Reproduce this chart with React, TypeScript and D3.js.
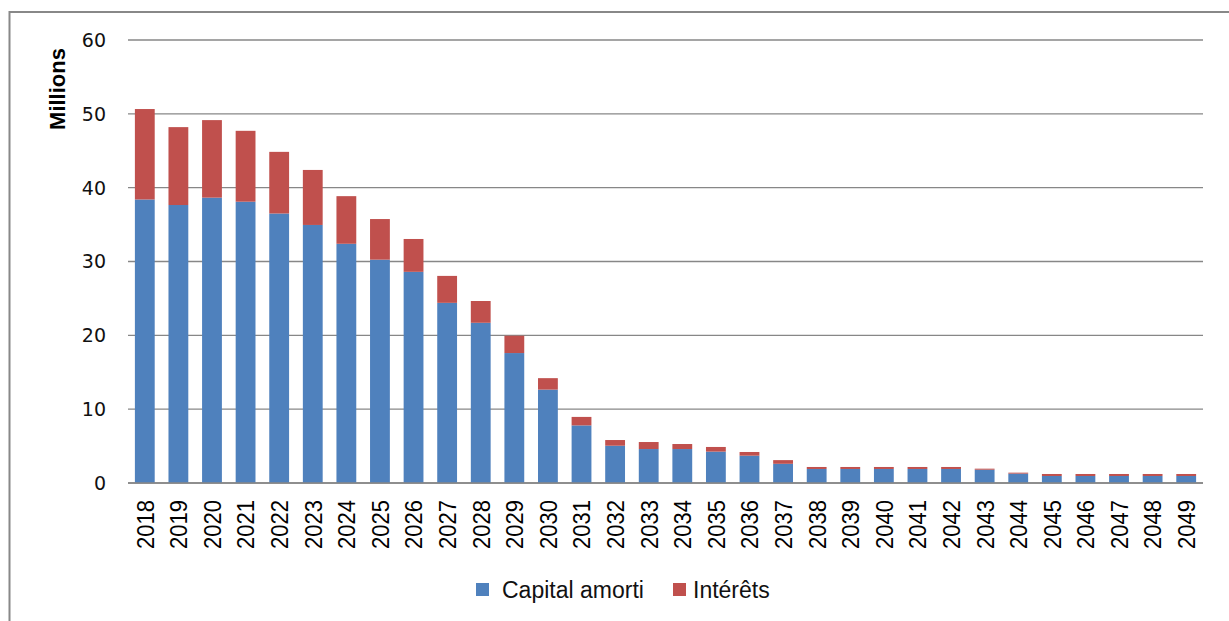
import * as d3 from "d3";

const years = [
  "2018", "2019", "2020", "2021", "2022", "2023", "2024", "2025", "2026", "2027", "2028",
  "2029", "2030", "2031", "2032", "2033", "2034", "2035", "2036", "2037", "2038", "2039",
  "2040", "2041", "2042", "2043", "2044", "2045", "2046", "2047", "2048", "2049",
];

// capital amorti (millions)
const capital = [
  38.4, 37.65, 38.65, 38.1, 36.5, 34.95, 32.4, 30.25, 28.6, 24.4, 21.7,
  17.6, 12.65, 7.8, 5.05, 4.6, 4.6, 4.25, 3.7, 2.6, 1.9, 1.9,
  1.9, 1.9, 1.9, 1.8, 1.27, 0.95, 0.95, 0.95, 0.95, 0.95,
];

// intérêts (millions)
const interets = [
  12.25, 10.55, 10.5, 9.6, 8.35, 7.45, 6.45, 5.5, 4.45, 3.65, 2.95,
  2.35, 1.55, 1.15, 0.77, 0.95, 0.68, 0.63, 0.5, 0.5, 0.27, 0.27,
  0.27, 0.27, 0.27, 0.14, 0.13, 0.27, 0.27, 0.27, 0.27, 0.27,
];

const yTicks = [0, 10, 20, 30, 40, 50, 60];

const seriesNames = ["Capital amorti", "Intérêts"];
const colors = ["#4F81BD", "#C0504D"];

const W = 1229;
const H = 621;
const plot = { left: 128, right: 1203, top: 40, bottom: 483 };

export default function App() {
  const rows = years.map((y, i) => ({ year: y, c: capital[i], r: interets[i] }));
  const stack = d3.stack<any>().keys(["c", "r"]);
  const layers = stack(rows);

  const x = d3.scaleBand().domain(years).range([plot.left, plot.right]).paddingInner(0.41).paddingOuter(0.205);
  const y = d3.scaleLinear().domain([0, 60]).range([plot.bottom, plot.top]);

  const font = "'Liberation Sans', Arial, sans-serif";

  return (
    <svg width={W} height={H} style={{ position: "absolute", left: 0, top: 0, background: "#fff" }}>
      <rect x={9.5} y={12} width={W + 20} height={H + 20} fill="#fff" stroke="#888" strokeWidth={2} />

      {yTicks.map((t) => (
        <g key={t}>
          <line x1={plot.left} x2={plot.right} y1={y(t)} y2={y(t)} stroke="#878787" strokeWidth={1.4} />
          <text x={106} y={y(t)} dy="0.36em" textAnchor="end" fontFamily="'DejaVu Sans', sans-serif" fontSize={19} fill="#111">
            {t}
          </text>
        </g>
      ))}

      <text
        transform={`translate(65,89) rotate(-90)`}
        textAnchor="middle"
        fontFamily={font}
        fontWeight="bold"
        fontSize={22}
        fill="#000"
      >
        Millions
      </text>

      {layers.map((layer, li) => (
        <g key={li} fill={colors[li]}>
          {layer.map((d, i) => (
            <rect
              key={i}
              x={x(years[i])}
              width={x.bandwidth()}
              y={y(d[1])}
              height={y(d[0]) - y(d[1])}
            />
          ))}
        </g>
      ))}

      <line x1={plot.left} x2={plot.right} y1={y(0)} y2={y(0)} stroke="#878787" strokeWidth={1.4} />

      {years.map((yr) => (
        <text
          key={yr}
          transform={`translate(${(x(yr) ?? 0) + x.bandwidth() / 2},500) rotate(-90) scale(1,1.12)`}
          textAnchor="end"
          dy="0.36em"
          fontFamily={font}
          fontSize={22}
          fill="#000"
        >
          {yr}
        </text>
      ))}

      <g fontFamily={font} fontSize={23} fill="#111">
        <rect x={476} y={583} width={13} height={13} fill={colors[0]} />
        <text x={502} y={598}>{seriesNames[0]}</text>
        <rect x={673} y={583} width={13} height={13} fill={colors[1]} />
        <text x={693} y={598}>{seriesNames[1]}</text>
      </g>
    </svg>
  );
}
